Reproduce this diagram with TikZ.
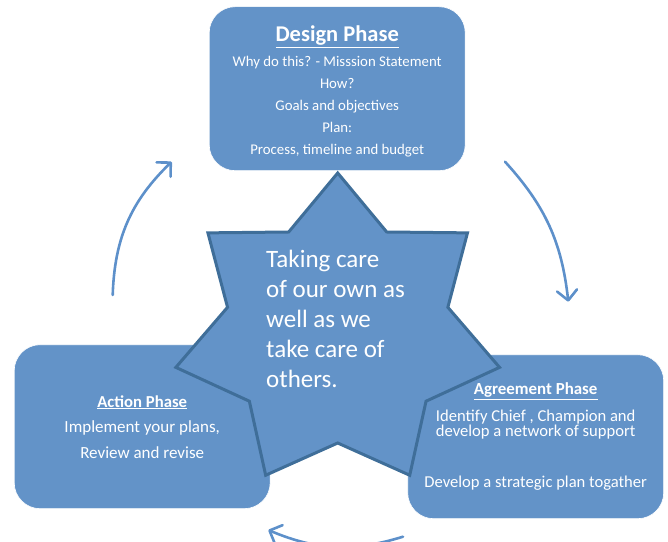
\documentclass[tikz,border=0pt]{standalone}
\usepackage{fontspec}
\setmainfont{Carlito}
\usetikzlibrary{arrows.meta}
\definecolor{phasefill}{RGB}{99,147,200}
\definecolor{staredge}{RGB}{63,110,153}
\definecolor{turnblue}{RGB}{93,144,202}
\begin{document}
\begin{tikzpicture}[x=1pt,y=1pt,
    phase/.style={draw=white, line width=0.6pt, fill=phasefill, rounded corners=26pt,
      text=white, align=center, minimum width=256pt, minimum height=164pt, inner sep=0pt},
    starpath/.style={draw=staredge, line width=3pt, fill=phasefill, line join=miter},
    turn/.style={draw=turnblue, line width=2.6pt, line cap=round,
      -{Straight Barb[length=10pt,width=20pt,line cap=round,line join=round]}}]
  \useasboundingbox (0,0) rectangle (668,541);
  \draw
    (337.2,452.3) node[phase, font=\fontsize{14.8}{22}\selectfont] (design)
      {{\fontsize{22.5}{24}\selectfont\bfseries\rule{0pt}{22pt}\underline{Design Phase}}\\[3pt]
       Why do this? - Misssion Statement\\ How?\\ Goals and objectives\\ Plan:\\
       Process, timeline and budget}
    (142.2,114.3) node[phase, font=\fontsize{17}{25.5}\selectfont] (action)
      {{\fontsize{16.7}{18}\selectfont\bfseries\underline{Action Phase}}\\
       Implement your plans,\\ Review and revise}
    (535.7,104.3) node[phase, font=\fontsize{16.6}{15}\selectfont] (agreement)
      {{\fontsize{16.9}{18}\selectfont\bfseries\underline{Agreement Phase}}\\[9pt]
       Identify Chief , Champion and\\ develop a network of support\\[36.6pt]
       Develop a strategic plan togather};
  \draw[starpath, shift={(337.7,209)}] (90:166 and 159)
    \foreach \k in {1,...,6} {-- ({90-(2*\k-1)*180/7}:113 and 111) -- ({90-\k*360/7}:166 and 159)}
    -- ({90-13*180/7}:113 and 111) -- cycle;
  \node[text=white, align=left, anchor=west, inner sep=0pt, font=\fontsize{25}{30}\selectfont]
    (core) at (266,222) {Taking care\\ of our own as\\ well as we\\ take care of\\ others.};
  \coordinate (l0) at (112.7,246);
  \coordinate (l1) at (171.7,379.3);
  \coordinate (r0) at (505,379.3);
  \coordinate (r1) at (568.3,239.3);
  \coordinate (b0) at (403,4.3);
  \coordinate (b1) at (268.3,11);
  \begin{scope}[turn]
    \draw (l0) to[bend left=22] (l1);
    \draw (r0) to[bend left=18] (r1);
    \draw (b0) to[bend left=20] (b1);
  \end{scope}
\end{tikzpicture}
\end{document}
